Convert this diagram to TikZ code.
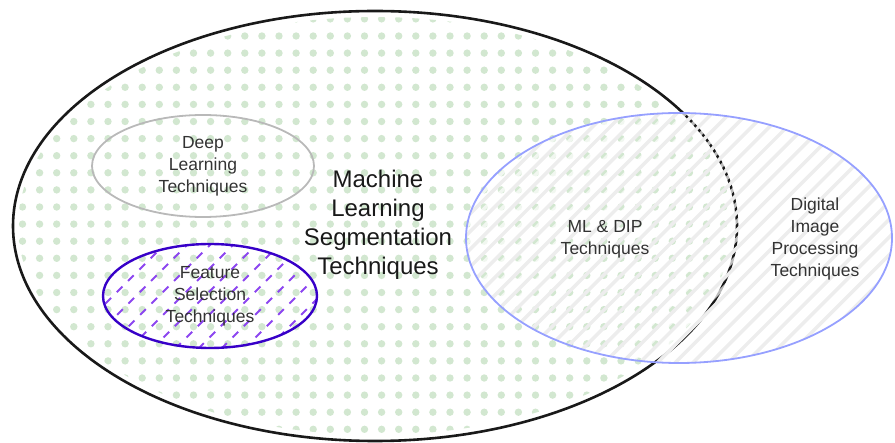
\documentclass[tikz,border=0pt]{standalone}
\usepackage{fontspec}
\setmainfont{Liberation Sans}
\usetikzlibrary{shapes.geometric}
\definecolor{dotgreen}{HTML}{D2E7D0}
\definecolor{venblue}{RGB}{150,160,255}
\definecolor{fsborder}{RGB}{55,0,200}
\definecolor{fshatch}{RGB}{140,70,240}
\definecolor{txtgray}{HTML}{333333}
\begin{document}
\begin{tikzpicture}[x=1pt,y=-1pt,
  setshape/.style={ellipse, inner sep=0pt, align=center},
  smalltext/.style={font=\fontsize{17.5}{22}\selectfont, text=txtgray, align=center},
  bigtext/.style={font=\fontsize{24}{29}\selectfont, text=black!90, align=center}]
\useasboundingbox (0,0) rectangle (895,443);

% dotted fill of the machine learning set
\begin{scope}
  \clip (375,226) ellipse [x radius=357, y radius=209];
  \foreach \i in {0,...,43}
    \foreach \j in {0,...,26}
      \fill[dotgreen] (5.4+17.1*\i, 1.8+17.1*\j) circle[radius=3.7];
\end{scope}

% machine learning set outline
\node[setshape, draw=black!90, line width=2.6, minimum width=724, minimum height=430] (ml) at (375,226) {};

% striped fill of the image processing set
\begin{scope}
  \clip (679,238) ellipse [x radius=213, y radius=125];
  \foreach \k in {0,...,42} {
    \pgfmathsetmacro\c{560+17.7*\k}
    \draw[gray!14, line width=3.5] (\c-100,100) -- (\c-400,400);
    \draw[white, opacity=0.7, line width=3.5] (\c-100+8.85,100) -- (\c-400+8.85,400);
  }
\end{scope}
\node[setshape, draw=venblue, line width=1.8, minimum width=426, minimum height=250] (dip) at (679,238) {};

% deep learning subset
\node[setshape, smalltext, draw=gray!55, line width=1.8, minimum width=222, minimum height=102] (dl) at (203,166) {Deep\\Learning\\Techniques};

% feature selection subset with dashed hatching
\begin{scope}
  \clip (210,296) ellipse [x radius=107, y radius=52];
  \foreach \k in {0,...,15} {
    \pgfmathsetmacro\c{340+23*\k}
    \draw[fshatch, line width=2, dash pattern=on 8 off 8] (\c-230,230) -- (\c-360,360);
  }
\end{scope}
\node[setshape, smalltext, draw=fsborder, line width=2.4, minimum width=214, minimum height=104] (fs) at (210,296) {Feature\\Selection\\Techniques};

% labels
\node[bigtext] (mltext) at (378,225) {Machine\\Learning\\Segmentation\\Techniques};
\node[smalltext] (both) at (605,239) {ML \& DIP\\Techniques};
\node[smalltext] (diptext) at (815,239) {Digital\\Image\\Processing\\Techniques};
\end{tikzpicture}
\end{document}
